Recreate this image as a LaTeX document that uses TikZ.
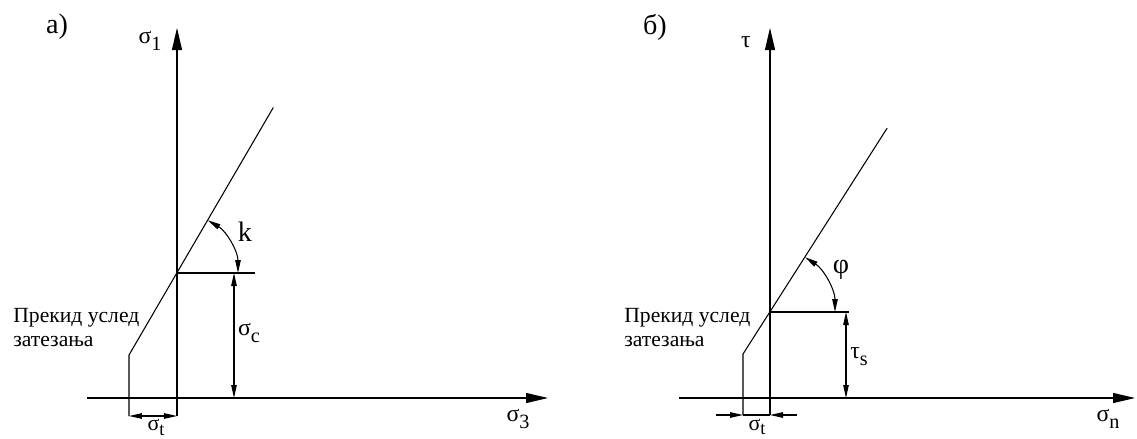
\documentclass[tikz,border=0pt]{standalone}
\usepackage{fontspec}
\setmainfont{Liberation Serif}
\usetikzlibrary{arrows.meta,calc}
\tikzset{
  >={Triangle[length=2.6mm,width=1.1mm]},
  gaxis/.style={line width=0.6pt, -{Triangle[length=4.4mm,width=2mm]}},
  gline/.style={line width=0.6pt},
  gdim/.style={line width=0.6pt, <->},
  gtip/.style={line width=0.6pt, ->},
  glbl/.style={font=\fontsize{13.5}{15}\selectfont, inner sep=0pt},
  gsmall/.style={font=\fontsize{12.5}{14}\selectfont, inner sep=0pt, anchor=north},
  gbig/.style={font=\fontsize{16}{18}\selectfont, inner sep=0pt},
  gtag/.style={font=\fontsize{16}{18}\selectfont, inner sep=0pt},
  gnote/.style={font=\fontsize{12.3}{13.2}\selectfont, align=left,
                anchor=west, inner sep=0pt},
}
\newcommand{\idx}[1]{\raisebox{-0.3em}{\fontsize{11.5}{11.5}\selectfont #1}}
\newcommand{\idxlo}[1]{\raisebox{-0.22em}{\fontsize{10.5}{10.5}\selectfont #1}}

\begin{document}
\begin{tikzpicture}[x=1cm,y=1cm]
  \useasboundingbox (-3.54,-0.8) rectangle (19.2,7.96);

  % a) sigma_1 -- sigma_3
  \begin{scope}[name prefix=a-]
    \coordinate (o) at (0,0);
    \coordinate (top) at (0,7.4);
    \coordinate (bot) at (0,-0.36);
    \coordinate (left) at (-1.8,0);
    \coordinate (right) at (7.42,0);
    \coordinate (c) at (0,2.5);
    \coordinate (t) at (-0.96,0.86);
    \coordinate (tb) at (-0.96,-0.36);
    \coordinate (end) at ($(c)+(59.8:3.83)$);
    \coordinate (h) at (1.56,2.5);
    \coordinate (d1) at (1.14,2.5);
    \coordinate (d0) at (1.14,0);
    \coordinate (k0) at ($(c)+(1.22,0)$);

    \draw[gaxis] (bot) -- (top);
    \draw[gaxis] (left) -- (right);
    \draw[gline] (tb) -- (t) -- (end);
    \draw[gline] (c) -- (h);
    \draw[gdim] (d1) -- (d0);
    \draw[gdim] (k0) arc[start angle=0, end angle=59.8, radius=1.22];
    \draw[gdim] (tb) -- (bot);

    \node[gtag] (tag) at (-2.4,7.42) {a)};
    \node[glbl] (ylab) at (-0.54,7.14) {σ\idx{1}};
    \node[glbl] (xlab) at (6.82,-0.42) {σ\idx{3}};
    \node[glbl] (sc) at (1.44,1.3) {σ\idx{c}};
    \node[gbig] (k) at (1.36,3.32) {k};
    \node[gsmall] (st) at (-0.42,-0.42) {σ\idxlo{t}};
    \node[gnote] (note) at (-3.28,1.41) {Прекид услед\\затезања};
  \end{scope}

  % b) tau -- sigma_n
  \begin{scope}[shift={(11.86,0)}, name prefix=b-]
    \coordinate (o) at (0,0);
    \coordinate (top) at (0,7.4);
    \coordinate (bot) at (0,-0.34);
    \coordinate (left) at (-1.82,0);
    \coordinate (right) at (7.3,0);
    \coordinate (c) at (0,1.72);
    \coordinate (t) at (-0.54,0.88);
    \coordinate (tb) at (-0.54,-0.34);
    \coordinate (end) at ($(c)+(57.5:4.36)$);
    \coordinate (h) at (1.58,1.72);
    \coordinate (d1) at (1.52,1.72);
    \coordinate (d0) at (1.52,0);
    \coordinate (f0) at ($(c)+(1.3,0)$);
    \coordinate (sl) at (-1.08,-0.34);
    \coordinate (sr) at (0.54,-0.34);

    \draw[gaxis] (bot) -- (top);
    \draw[gaxis] (left) -- (right);
    \draw[gline] (tb) -- (t) -- (end);
    \draw[gline] (c) -- (h);
    \draw[gdim] (d1) -- (d0);
    \draw[gdim] (f0) arc[start angle=0, end angle=57.5, radius=1.3];
    \draw[gtip] (sl) -- (tb);
    \draw[gtip] (sr) -- (bot);
    \draw[gline] (tb) -- (bot);

    \node[gtag] (tag) at (-2.3,7.42) {б)};
    \node[glbl] (ylab) at (-0.48,7.12) {τ};
    \node[glbl] (xlab) at (6.76,-0.42) {σ\idx{n}};
    \node[glbl] (ts) at (1.78,0.82) {τ\idx{s}};
    \node[gbig] (phi) at (1.42,2.56) {φ};
    \node[gsmall] (st) at (-0.26,-0.41) {σ\idxlo{t}};
    \node[gnote] (note) at (-2.92,1.41) {Прекид услед\\затезања};
  \end{scope}
\end{tikzpicture}
\end{document}
